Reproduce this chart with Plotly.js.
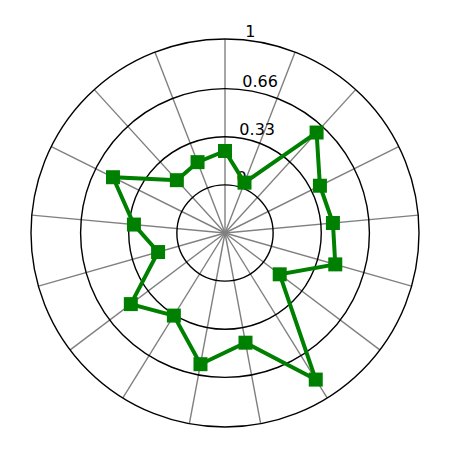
<!DOCTYPE html>
<html>
<head>
<meta charset="utf-8">
<script src="https://cdn.plot.ly/plotly-3.0.1.min.js"></script>
<style>html,body{margin:0;padding:0;background:#fff;}#chart{width:450px;height:450px;}</style>
</head>
<body>
<div id="chart"></div>
<script>
// Data (17 evenly spaced directions, clockwise from north)
var values = [0.232, 0.040, 0.602, 0.397, 0.413, 0.456, 0.140, 0.852, 0.435, 0.585, 0.336, 0.479, 0.147, 0.297, 0.528, 0.160, 0.191];
var nDirections = 17;
var radialTickVals = [0, 0.33, 0.66, 1];
var radialTickText = ['0', '0.33', '0.66', '1'];
var radialRange = [-0.33, 1];

var step = 360 / nDirections;
var theta = values.map(function (_, i) { return i * step; });
var spokes = [];
for (var i = 0; i < nDirections; i++) spokes.push(i * step);

// close the loop
var rClosed = values.concat([values[0]]);
var tClosed = theta.concat([theta[0]]);

var trace = {
  type: 'scatterpolar',
  r: rClosed,
  theta: tClosed,
  mode: 'lines+markers',
  line: {color: '#008000', width: 4},
  marker: {symbol: 'square', size: 14, color: '#008000'},
  showlegend: false,
  hoverinfo: 'skip',
  cliponaxis: false
};

// labels sit just above their circle, as in the reference
var shownTickText = radialTickText.map(function (t) { return t + '<br>&nbsp;'; });

var layout = {
  width: 450,
  height: 450,
  margin: {l: 31, r: 31, t: 39, b: 23, pad: 0},
  paper_bgcolor: '#ffffff',
  font: {family: 'DejaVu Sans', size: 16, color: '#000000'},
  showlegend: false,
  polar: {
    bgcolor: '#ffffff',
    domain: {x: [0, 1], y: [0, 1]},
    radialaxis: {
      range: radialRange,
      tickmode: 'array',
      tickvals: radialTickVals,
      ticktext: shownTickText,
      showline: false,
      ticks: '',
      angle: 86.5,
      side: 'clockwise',
      tickangle: 86.5,
      gridcolor: '#000000',
      gridwidth: 1.4,
      tickfont: {family: 'DejaVu Sans', size: 16, color: '#000000'},
      layer: 'below traces'
    },
    angularaxis: {
      rotation: 90,
      direction: 'clockwise',
      tickmode: 'array',
      tickvals: spokes,
      showticklabels: false,
      ticks: '',
      gridcolor: '#808080',
      gridwidth: 1.4,
      showline: true,
      linecolor: '#000000',
      linewidth: 1.4,
      layer: 'below traces'
    }
  }
};

Plotly.newPlot('chart', [trace], layout, {staticPlot: true, displayModeBar: false});
</script>
</body>
</html>
